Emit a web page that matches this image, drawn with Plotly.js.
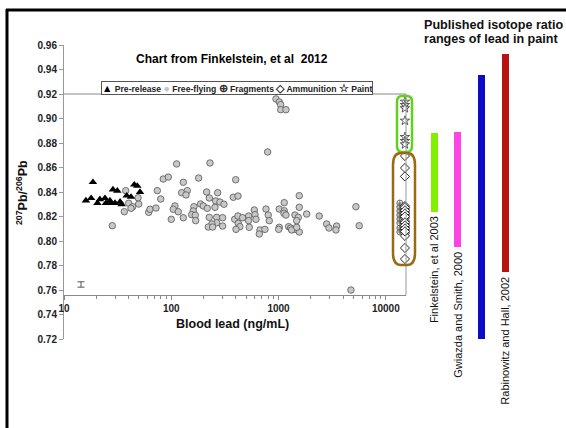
<!DOCTYPE html>
<html>
<head>
<meta charset="utf-8">
<script src="https://cdn.plot.ly/plotly-3.0.1.min.js"></script>
<style>html,body{margin:0;padding:0;background:#fff}#chart{width:566px;height:428px}</style>
</head>
<body>
<div id="chart"></div>
<script>
// ---- data ----
const preX = [16.0, 17.9, 18.6, 20.5, 21.6, 24.1, 24.6, 26.8, 28.6, 31.4, 29.9, 33.3, 34.5, 38.4, 42.1, 45.2, 48.2, 51.1, 27.4];
const preY = [0.833, 0.835, 0.848, 0.831, 0.834, 0.835, 0.831, 0.833, 0.842, 0.841, 0.831, 0.832, 0.830, 0.837, 0.836, 0.846, 0.845, 0.840, 0.831];

const ffX = [28.2, 36.5, 37.6, 40.1, 43.7, 42.1, 49.7, 49.0, 61.6, 63.3, 72.0, 74.1, 79.7, 84.2, 93.8, 112.2, 229.5, 129.4, 180, 398.5,
  791, 125, 141, 137.1, 213.6, 270.6, 226, 259.2, 284.3, 309.7, 255.5, 378.4, 418.6, 1560, 1130, 108.2, 104.4, 116.2, 162.8, 160.3,
  187.8, 198.7, 216.6, 155, 167.5, 129.4, 100, 168.8, 226, 265, 301, 265, 239.5, 221.4, 243, 301, 390, 418.6, 462, 421,
  436.5, 401, 526, 526, 533, 594, 603, 616, 671, 661, 747, 763, 801, 819, 1016, 1130, 1122, 1172, 1016, 1003,
  1241, 1297, 1422, 1560, 1324, 1475, 1422, 1527, 1560, 1475, 1829, 2394, 2805, 2951, 3477, 3428, 5260, 5650, 4730,
  946, 1016, 1047, 1047, 1172];
const ffY = [0.8125, 0.8239, 0.8411, 0.8308, 0.828, 0.8267, 0.8302, 0.8353, 0.8234, 0.8259, 0.8269, 0.8411, 0.8343, 0.8506, 0.8522, 0.8629, 0.8637, 0.8479, 0.8514, 0.850,
  0.8727, 0.8394, 0.8411, 0.8376, 0.840, 0.8394, 0.8351, 0.8327, 0.8318, 0.830, 0.8275, 0.8357, 0.8367, 0.837, 0.8313, 0.8286, 0.8259, 0.8239, 0.828, 0.8245,
  0.8302, 0.8286, 0.8267, 0.8215, 0.821, 0.819, 0.8177, 0.8166, 0.8193, 0.8193, 0.819, 0.8149, 0.8139, 0.8114, 0.8114, 0.8122, 0.8177, 0.8204, 0.819, 0.8144,
  0.8117, 0.8095, 0.8204, 0.8166, 0.8112, 0.8253, 0.8215, 0.8177, 0.809, 0.8057, 0.8095, 0.8261, 0.8212, 0.8166, 0.8261, 0.8247, 0.8226, 0.8212, 0.8112, 0.8095,
  0.8117, 0.8106, 0.8095, 0.8073, 0.809, 0.8112, 0.8212, 0.8193, 0.8275, 0.8166, 0.822, 0.8204, 0.8139, 0.8106, 0.8122, 0.809, 0.828, 0.8125, 0.760,
  0.916, 0.9135, 0.9113, 0.9072, 0.9072];

const fragX = [13500, 13500, 13500, 13500, 13500, 13500, 13500, 13500];
const fragY = [0.831, 0.8278, 0.8245, 0.8212, 0.818, 0.8147, 0.8106, 0.8073];

const ammoX = [15070, 15070, 15070, 15070, 15070, 15070, 15070, 15070, 15070, 15070, 15070, 15070, 15070, 15070, 15070, 15070,
  15070, 15070, 15070, 15070, 15070, 15070, 15070, 15070];
const ammoY = [0.8694, 0.8596, 0.8527, 0.8286, 0.8261, 0.8237, 0.8212, 0.8188, 0.8163, 0.8139, 0.8114, 0.809, 0.8065, 0.8041, 0.7943, 0.7853,
  0.8275, 0.8250, 0.8225, 0.8200, 0.8152, 0.8127, 0.8102, 0.8078];

const paintX = [15070, 15070, 15070, 15070, 15070, 15070, 15070];
const paintY = [0.9137, 0.911, 0.9084, 0.8982, 0.8849, 0.8816, 0.8789];

const errX = [14.4];
const errY = [0.7645];
const errHalf = [0.0022];

const refNames = ['Finkelstein, et al 2003', 'Gwiazda and Smith, 2000', 'Rabinowitz, 2002', 'Rabinowitz and Hall, 2002'];
const refLow = [0.824, 0.795, 0.718, 0.775];
const refHigh = [0.888, 0.889, 0.9355, 0.9525];
const refColors = ['#80f000', '#ff44e6', '#0c0cc8', '#b81212'];

const xTickVals = [10, 100, 1000, 10000];
const xTickText = ['10', '100', '1000', '10000'];
const legendNames = ['Pre-release', 'Free-flying', 'Fragments', 'Ammunition', 'Paint'];

// ---- layout helpers ----
const W = 566, H = 428, ML = 64, MR = 36, MT = 45, MB = 89;
const PW = W - ML - MR, PH = H - MT - MB;
const px = x => (x - ML) / PW;
const py = y => (H - MB - y) / PH;
const Y0 = 0.72, Y1 = 0.96;
const vy = v => (v - Y0) / (Y1 - Y0);
const xDomEnd = px(406);
const xAxisY = 0.7557;
const FONT = 'Arial, "Liberation Sans", sans-serif';

function rr(x0, x1, y0, y1, rx, ry) {
  return `M${x0 + rx},${y0} L${x1 - rx},${y0} Q${x1},${y0} ${x1},${y0 + ry} L${x1},${y1 - ry} Q${x1},${y1} ${x1 - rx},${y1} L${x0 + rx},${y1} Q${x0},${y1} ${x0},${y1 - ry} L${x0},${y0 + ry} Q${x0},${y0} ${x0 + rx},${y0} Z`;
}

const minv = a => Math.min.apply(null, a), maxv = a => Math.max.apply(null, a);

const traces = [
  {type: 'scatter', mode: 'markers', x: errX, y: errY, xaxis: 'x', yaxis: 'y',
   marker: {size: 1, opacity: 0}, cliponaxis: false,
   error_y: {type: 'data', array: errHalf, visible: true, width: 3.5, thickness: 1, color: '#555'}},
  {type: 'scatter', mode: 'markers', name: legendNames[1], x: ffX, y: ffY, cliponaxis: false,
   marker: {symbol: 'circle', size: 6.5, color: '#c8c8c8', line: {color: '#555', width: 0.8}}},
  {type: 'scatter', mode: 'markers', name: legendNames[0], x: preX, y: preY, cliponaxis: false,
   marker: {symbol: 'triangle-up', size: 7.5, color: '#000'}},
  {type: 'scatter', mode: 'markers', name: legendNames[2], x: fragX, y: fragY, cliponaxis: false,
   marker: {symbol: 'circle-cross-open', size: 6, color: '#555', line: {width: 0.8}}},
  {type: 'scatter', mode: 'markers', name: legendNames[3], x: ammoX, y: ammoY, cliponaxis: false,
   marker: {symbol: 'diamond', size: 7, color: '#fff', line: {color: '#111', width: 0.9}}},
  {type: 'scatter', mode: 'markers', name: legendNames[4], x: paintX, y: paintY, cliponaxis: false,
   marker: {symbol: 'star', size: 7, color: '#fff', line: {color: '#333', width: 0.8}}},
  {type: 'bar', x: refNames.map((_, i) => i), base: refLow, y: refHigh.map((h, i) => h - refLow[i]),
   xaxis: 'x2', yaxis: 'y', width: 0.296, cliponaxis: false,
   marker: {color: refColors, line: {width: 0}}}
];

const sym = (s, c) => `<span style="font-size:10.5px;color:${c}">${s}</span>`;
const annotations = [
  {text: '<b>Chart from Finkelstein, et al  2012</b>', xref: 'paper', yref: 'paper', x: px(232), y: py(59),
   xanchor: 'center', yanchor: 'middle', showarrow: false, font: {family: FONT, size: 12, color: '#000'}},
  {text: sym('▲', '#000') + ' ' + legendNames[0] + ' ' + sym('●', '#c4c4c4') + ' ' + legendNames[1] + ' ' +
     sym('⊕', '#333') + ' ' + legendNames[2] + ' ' + sym('◇', '#333') + ' ' + legendNames[3] + ' ' + sym('☆', '#333') + ' ' + legendNames[4],
   xref: 'paper', yref: 'paper', x: px(236.5), y: py(88), xanchor: 'center', yanchor: 'middle', showarrow: false,
   bordercolor: '#555', borderwidth: 1, borderpad: 0, bgcolor: '#fff',
   font: {family: FONT, size: 8.6, color: '#222', weight: 'bold'}},
  {text: '<b>Blood lead (ng/mL)</b>', xref: 'paper', yref: 'paper', x: px(232), y: py(324),
   xanchor: 'center', yanchor: 'middle', showarrow: false, font: {family: FONT, size: 12.5, color: '#111'}},
  {text: '<b><sup>207</sup>Pb/<sup>206</sup>Pb</b>', xref: 'paper', yref: 'paper', x: px(22), y: py(193),
   xanchor: 'center', yanchor: 'middle', textangle: -90, showarrow: false, font: {family: FONT, size: 12.5, color: '#111'}},
  {text: '<b>Published isotope ratio</b>', xref: 'paper', yref: 'paper', x: px(422), y: py(25),
   xanchor: 'left', yanchor: 'middle', showarrow: false, font: {family: FONT, size: 12.6, color: '#111'}},
  {text: '<b>ranges of lead in paint</b>', xref: 'paper', yref: 'paper', x: px(422), y: py(39),
   xanchor: 'left', yanchor: 'middle', showarrow: false, font: {family: FONT, size: 12.6, color: '#111'}}
];
refNames.forEach((n, i) => annotations.push({
  text: n, xref: 'x2', yref: 'y', x: i, y: refLow[i], textangle: -90, xanchor: 'center', yanchor: 'top',
  yshift: -3, showarrow: false, font: {family: FONT, size: 11, color: '#111'}
}));

const shapes = [
  {type: 'line', xref: 'paper', yref: 'paper', x0: 0, x1: xDomEnd, y0: vy(0.92), y1: vy(0.92), line: {color: '#888', width: 1}},
  {type: 'line', xref: 'paper', yref: 'paper', x0: xDomEnd, x1: xDomEnd, y0: vy(xAxisY), y1: vy(0.92), line: {color: '#999', width: 1}},
  {type: 'line', xref: 'paper', yref: 'paper', x0: px(7), x1: px(7), y0: py(9), y1: py(430), line: {color: '#000', width: 3}},
  {type: 'line', xref: 'paper', yref: 'paper', x0: px(6), x1: px(568), y0: py(10), y1: py(10), line: {color: '#000', width: 3}},
  {type: 'path', xref: 'paper', yref: 'paper',
   path: rr(px(397), px(412), vy(minv(paintY) - 0.0062), vy(maxv(paintY) + 0.0047), 5 / PW, 6 / PH),
   line: {color: '#5fd21e', width: 2.5}},
  {type: 'path', xref: 'paper', yref: 'paper',
   path: rr(px(393), px(415), vy(minv(ammoY) - 0.0049), vy(maxv(ammoY) + 0.0024), 8 / PW, 12 / PH),
   line: {color: '#9a6a12', width: 2.5}}
];

const minorVals = [];
[10, 100, 1000, 10000].forEach(d => { for (let k = 2; k <= 9; k++) if (d * k < 15400) minorVals.push(d * k); });

const layout = {
  width: W, height: H, margin: {l: ML, r: MR, t: MT, b: MB, pad: 0},
  paper_bgcolor: '#fff', plot_bgcolor: 'rgba(0,0,0,0)', showlegend: false,
  font: {family: FONT},
  xaxis: {type: 'log', domain: [0, xDomEnd], range: [1, 4.188], anchor: 'free', position: vy(xAxisY),
    showline: true, linecolor: '#888', linewidth: 1, showgrid: false, zeroline: false,
    tickmode: 'array', tickvals: xTickVals, ticktext: xTickText, ticks: 'outside', ticklen: 4, tickcolor: '#888',
    minor: {tickmode: 'array', tickvals: minorVals, ticks: 'outside', ticklen: 3, tickcolor: '#888', showgrid: false},
    tickfont: {family: FONT, size: 10, color: '#222', weight: 'bold'}},
  xaxis2: {domain: [xDomEnd, 1], range: [-1.183, 4.056], visible: false, anchor: 'y', fixedrange: true},
  yaxis: {domain: [0, 1], range: [Y0, Y1], anchor: 'x', tick0: 0.72, dtick: 0.02, tickformat: '.2f',
    showline: true, linecolor: '#999', linewidth: 1, showgrid: false, zeroline: false,
    ticks: 'outside', ticklen: 4, tickcolor: '#999',
    tickfont: {family: FONT, size: 10, color: '#222', weight: 'bold'}},
  annotations: annotations,
  shapes: shapes,
  bargap: 0
};

Plotly.newPlot('chart', traces, layout, {displayModeBar: false, staticPlot: true});
</script>
</body>
</html>
